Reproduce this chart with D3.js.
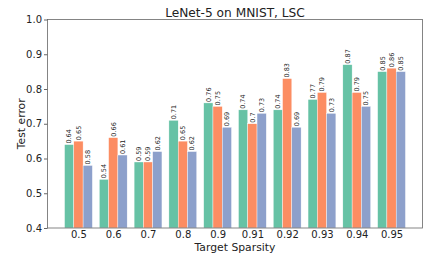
<!DOCTYPE html>
<html>
<head>
<meta charset="utf-8">
<script src="https://cdn.jsdelivr.net/npm/d3@7"></script>
<style>
  body { margin: 0; background: #fff; }
  svg text { font-family: "DejaVu Sans", sans-serif; }
</style>
</head>
<body>
<div id="chart"></div>
<script>
const categories = ["0.5", "0.6", "0.7", "0.8", "0.9", "0.91", "0.92", "0.93", "0.94", "0.95"];
const seriesA = [0.64, 0.54, 0.59, 0.71, 0.76, 0.74, 0.74, 0.77, 0.87, 0.85];
const seriesB = [0.65, 0.66, 0.59, 0.65, 0.75, 0.7, 0.83, 0.79, 0.79, 0.86];
const seriesC = [0.58, 0.61, 0.62, 0.62, 0.69, 0.73, 0.69, 0.73, 0.75, 0.85];
const yTicks = [0.4, 0.5, 0.6, 0.7, 0.8, 0.9, 1.0];
const colors = ["#66c2a5", "#fc8d62", "#8da0cb"];
const series = [seriesA, seriesB, seriesC];

const W = 428, H = 258;
const margin = { top: 19.5, right: 5.5, bottom: 30, left: 47.5 };
const width = W - margin.left - margin.right;
const height = H - margin.top - margin.bottom;

const svg = d3.select("#chart").append("svg")
  .attr("width", W).attr("height", H);
const g = svg.append("g")
  .attr("transform", `translate(${margin.left},${margin.top})`);

const barW = 0.8 / 3;
const x = d3.scaleLinear().domain([-0.89, categories.length - 1 + 0.89]).range([0, width]);
const y = d3.scaleLinear().domain([0.4, 1.0]).range([height, 0]);

series.forEach((vals, s) => {
  const off = (s - 1) * barW;
  g.selectAll(null).data(vals).enter().append("rect")
    .attr("x", (d, i) => x(i + off - barW / 2))
    .attr("y", d => y(d))
    .attr("width", x(barW) - x(0))
    .attr("height", d => y(0.4) - y(d))
    .attr("fill", colors[s])
    .attr("stroke", "#fff")
    .attr("stroke-width", 0.4);

  g.selectAll(null).data(vals).enter().append("text")
    .attr("transform", (d, i) => `translate(${x(i + off) + 2.3},${y(d) - 1}) rotate(-90)`)
    .attr("font-size", 6.5)
    .attr("fill", "#222")
    .text(d => String(d));
});

// frame
g.append("rect")
  .attr("width", width).attr("height", height)
  .attr("fill", "none").attr("stroke", "#666").attr("stroke-width", 0.8);

// y axis
const yAxis = g.append("g")
  .call(d3.axisLeft(y).tickValues(yTicks).tickFormat(d3.format(".1f")).tickSize(3.5).tickPadding(2));
yAxis.select(".domain").remove();
yAxis.selectAll("line").attr("stroke", "#666");
yAxis.selectAll("text").attr("font-size", 10).attr("fill", "#222")
  .style("font-family", "DejaVu Sans");

// x axis
const xAxis = g.append("g")
  .attr("transform", `translate(0,${height})`)
  .call(d3.axisBottom(x).tickValues(d3.range(categories.length)).tickFormat(i => categories[i]).tickSize(0).tickPadding(3));
xAxis.select(".domain").remove();
xAxis.selectAll("text").attr("font-size", 10).attr("fill", "#222")
  .style("font-family", "DejaVu Sans");

svg.append("text")
  .attr("x", margin.left + width / 2).attr("y", 16.5)
  .attr("text-anchor", "middle").attr("font-size", 12.2).attr("fill", "#222")
  .text("LeNet-5 on MNIST, LSC");

svg.append("text")
  .attr("x", margin.left + width / 2).attr("y", 251)
  .attr("text-anchor", "middle").attr("font-size", 10.8).attr("fill", "#222")
  .text("Target Sparsity");

svg.append("text")
  .attr("transform", `translate(25,${margin.top + height / 2}) rotate(-90)`)
  .attr("text-anchor", "middle").attr("font-size", 10.8).attr("fill", "#222")
  .text("Test error");
</script>
</body>
</html>
